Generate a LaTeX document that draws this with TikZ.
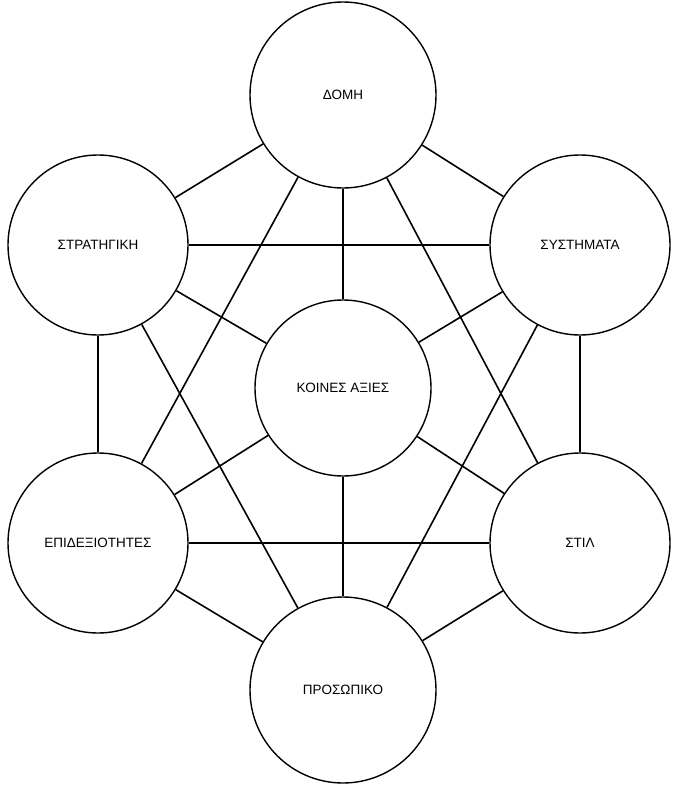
\documentclass[tikz,border=0pt]{standalone}
\usepackage{fontspec}
\setmainfont{Liberation Sans}
\begin{document}
\begin{tikzpicture}[x=1pt,y=-1pt,
  sn/.style={circle,draw,line width=1.4pt,fill=white,inner sep=0pt,font=\fontsize{13.5}{15}\selectfont},
  edge/.style={line width=1.6pt}]
\useasboundingbox (0,0) rectangle (673,789);
\node[sn,minimum size=186pt] (domi) at (343,95) {ΔΟΜΗ};
\node[sn,minimum size=180pt] (strat) at (98,245) {ΣΤΡΑΤΗΓΙΚΗ};
\node[sn,minimum size=180pt] (syst) at (580,245) {ΣΥΣΤΗΜΑΤΑ};
\node[sn,minimum size=176pt] (koin) at (343,388) {ΚΟΙΝΕΣ ΑΞΙΕΣ};
\node[sn,minimum size=180pt] (epid) at (98,543) {ΕΠΙΔΕΞΙΟΤΗΤΕΣ};
\node[sn,minimum size=180pt] (stil) at (580,543) {ΣΤΙΛ};
\node[sn,minimum size=186pt] (pros) at (343,690) {ΠΡΟΣΩΠΙΚΟ};
\foreach \a in {domi,strat,syst,epid,stil,pros} \draw[edge] (koin) -- (\a);
\draw[edge] (domi) -- (strat);
\draw[edge] (domi) -- (syst);
\draw[edge] (domi) -- (epid);
\draw[edge] (domi) -- (stil);
\draw[edge] (strat) -- (syst);
\draw[edge] (strat) -- (epid);
\draw[edge] (strat) -- (pros);
\draw[edge] (syst) -- (stil);
\draw[edge] (syst) -- (pros);
\draw[edge] (epid) -- (stil);
\draw[edge] (epid) -- (pros);
\draw[edge] (stil) -- (pros);
\end{tikzpicture}
\end{document}
